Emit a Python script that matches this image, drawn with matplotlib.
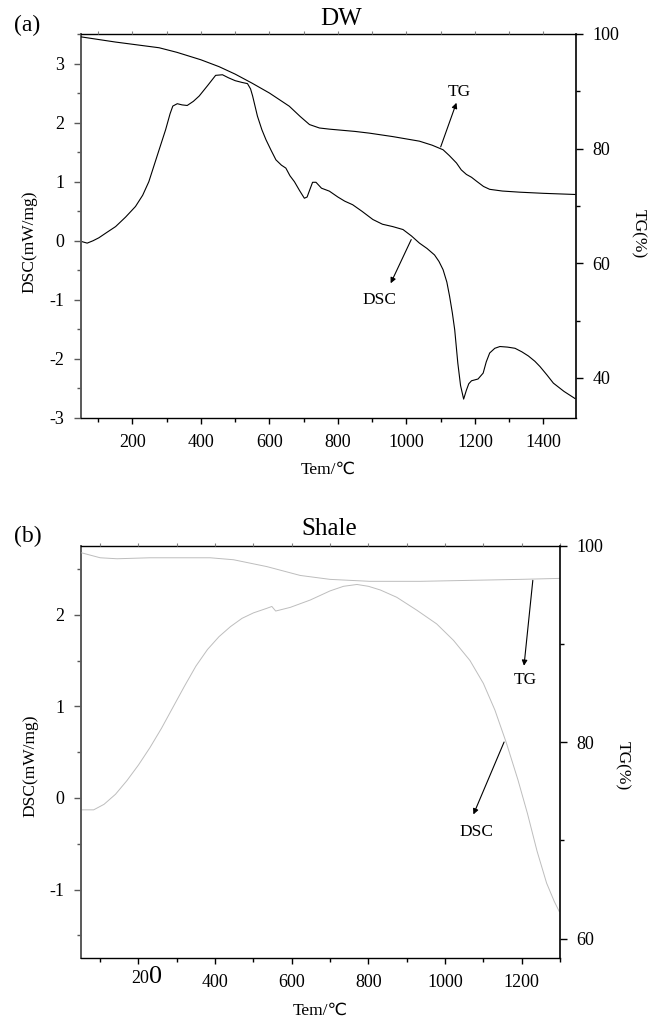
"""DSC / TG curves for the DW and shale samples."""

import matplotlib.pyplot as plt
from matplotlib.ticker import MultipleLocator

plt.rcParams["font.family"] = ["Liberation Serif", "DejaVu Sans"]

# DW sample
dw_dsc_temp = [50, 68, 85, 102, 125, 151, 180, 209, 230, 248, 263, 278, 297, 310,
               318, 331, 345, 360, 378, 395, 420, 443, 463, 480, 500, 520, 536,
               545, 551, 558, 565, 578, 590, 605, 619, 635, 648, 660, 673, 688,
               702, 710, 717, 726, 736, 752, 775, 800, 820, 843, 870, 902, 930,
               960, 990, 1015, 1038, 1060, 1082, 1095, 1107, 1118, 1126, 1134,
               1141, 1150, 1158, 1167, 1175, 1182, 1190, 1209, 1224, 1233, 1243,
               1258, 1273, 1295, 1317, 1337, 1356, 1375, 1390, 1410, 1429, 1460,
               1492]
dw_dsc = [-0.01, -0.04, 0.00, 0.05, 0.14, 0.24, 0.40, 0.58, 0.77, 1.00, 1.27,
          1.54, 1.88, 2.15, 2.28, 2.32, 2.30, 2.29, 2.36, 2.45, 2.63, 2.80, 2.81,
          2.76, 2.71, 2.68, 2.66, 2.57, 2.45, 2.28, 2.11, 1.88, 1.71, 1.53, 1.37,
          1.28, 1.23, 1.10, 1.00, 0.85, 0.72, 0.74, 0.85, 0.99, 0.99, 0.89, 0.84,
          0.74, 0.67, 0.61, 0.50, 0.36, 0.28, 0.24, 0.19, 0.08, -0.04, -0.13,
          -0.24, -0.35, -0.49, -0.70, -0.94, -1.22, -1.51, -2.07, -2.45, -2.68,
          -2.53, -2.42, -2.37, -2.34, -2.24, -2.05, -1.90, -1.82, -1.79, -1.80,
          -1.82, -1.88, -1.95, -2.04, -2.13, -2.27, -2.41, -2.55, -2.67]
dw_tg_temp = [50, 150, 278, 330, 400, 453, 500, 550, 600, 658, 690, 717, 746, 775,
              850, 892, 960, 1038, 1075, 1107, 1125, 1146, 1160, 1175, 1190, 1205,
              1225, 1243, 1280, 1331, 1400, 1492]
dw_tg = [99.5, 98.6, 97.6, 96.8, 95.5, 94.3, 93.0, 91.4, 89.7, 87.4, 85.6, 84.2,
         83.6, 83.4, 83.0, 82.7, 82.1, 81.3, 80.6, 79.8, 78.8, 77.5, 76.3, 75.5,
         75.0, 74.3, 73.4, 72.9, 72.6, 72.4, 72.2, 72.0]

# Shale sample
sh_dsc_temp = [52, 83, 110, 140, 170, 200, 230, 260, 290, 320, 350, 380, 410, 440,
               470, 500, 535, 548, 558, 596, 648, 700, 735, 770, 800, 831, 874,
               926, 978, 1022, 1065, 1100, 1130, 1160, 1190, 1215, 1240, 1265,
               1285, 1298]
sh_dsc = [-0.13, -0.13, -0.07, 0.04, 0.19, 0.36, 0.55, 0.76, 0.99, 1.22, 1.44,
          1.62, 1.76, 1.87, 1.96, 2.02, 2.07, 2.09, 2.04, 2.08, 2.16, 2.26, 2.31,
          2.33, 2.31, 2.27, 2.19, 2.05, 1.90, 1.72, 1.50, 1.25, 0.96, 0.60, 0.20,
          -0.17, -0.58, -0.93, -1.13, -1.24]
sh_tg_temp = [52, 100, 144, 230, 387, 448, 535, 622, 700, 804, 935, 1065, 1196, 1300]
sh_tg = [99.3, 98.8, 98.7, 98.8, 98.8, 98.6, 97.9, 97.0, 96.6, 96.4, 96.4, 96.5,
         96.6, 96.7]

TICK_SIZE = 13
LABEL_SIZE = 12.5
ARROW = dict(arrowstyle="-|>", lw=0.8, color="black", mutation_scale=8,
             shrinkA=0, shrinkB=0)


def setup_axes(ax, ax2, xlim, dsc_lim, tg_lim, dsc_step, ylabel_y, tg_label_pos):
    ax.set_xlim(*xlim)
    ax.set_ylim(*dsc_lim)
    ax2.set_ylim(*tg_lim)

    ax.xaxis.set_major_locator(MultipleLocator(200))
    ax.xaxis.set_minor_locator(MultipleLocator(100))
    ax.yaxis.set_major_locator(MultipleLocator(dsc_step))
    ax.yaxis.set_minor_locator(MultipleLocator(dsc_step / 2))
    ax2.yaxis.set_major_locator(MultipleLocator(20))
    ax2.yaxis.set_minor_locator(MultipleLocator(10))

    ax.tick_params(which="both", direction="out", labelsize=TICK_SIZE, pad=7,
                   top=False, right=False)
    ax.tick_params(axis="y", which="major", length=5, width=1.0, color="0.35")
    ax.tick_params(axis="y", which="minor", length=3, width=1.0, color="0.35")
    ax.tick_params(axis="x", which="major", length=4.5, width=1.0)
    ax.tick_params(axis="x", which="minor", length=3, width=1.0)
    ax.yaxis.set_major_formatter(lambda v, _: f"{v:g}".replace("\u2212", "-"))
    ax2.tick_params(which="both", direction="out", labelsize=TICK_SIZE, pad=7)
    ax2.tick_params(which="major", length=5, width=1.0)
    ax2.tick_params(which="minor", length=3, width=1.0)

    # little marks along the top edge
    ax2.xaxis.set_visible(True)
    ax2.tick_params(axis="x", which="both", bottom=False, top=True,
                    labelbottom=False, labeltop=False, length=2, width=0.8,
                    color="0.5", direction="out")

    ax.spines["left"].set_color("0.35")
    ax.spines["left"].set_linewidth(1.4)
    ax.spines["bottom"].set_linewidth(1.0)
    ax.spines["top"].set_linewidth(1.0)
    ax.spines["right"].set_visible(False)
    for side in ("left", "top", "bottom"):
        ax2.spines[side].set_visible(False)
    ax2.spines["right"].set_linewidth(1.2)

    ax.set_xlabel("Tem/\u2103", fontsize=LABEL_SIZE, labelpad=8)
    ax.set_ylabel("DSC(mW/mg)", fontsize=LABEL_SIZE)
    ax.yaxis.set_label_coords(-0.088, ylabel_y)
    ax2.set_ylabel("TG(%)", fontsize=LABEL_SIZE, rotation=270, va="center")
    ax2.yaxis.set_label_coords(*tg_label_pos)


fig = plt.figure(figsize=(6.57, 10.24), dpi=100)

# (a) DW
ax_a = fig.add_axes([0.1233, 0.5918, 0.7534, 0.3750])
ax_a2 = ax_a.twinx()
ax_a.plot(dw_dsc_temp, dw_dsc, color="black", lw=0.8)
ax_a2.plot(dw_tg_temp, dw_tg, color="black", lw=0.8)
setup_axes(ax_a, ax_a2, (50, 1495), (-3, 3.5), (33, 100), 1, 0.46, (1.125, 0.48))
ax_a.text(0.526, 1.024, "DW", transform=ax_a.transAxes, ha="center",
          va="baseline", fontsize=18)
fig.text(27 / 657, 1 - 25 / 1024, "(a)", ha="center", va="center", fontsize=17)
ax_a2.annotate("", xy=(1146, 88.0), xytext=(1100, 80.3), arrowprops=ARROW)
ax_a2.text(1155, 89.9, "TG", ha="center", va="center", fontsize=12.5)
ax_a.annotate("", xy=(954, -0.72), xytext=(1014, 0.02), arrowprops=ARROW)
ax_a.text(921, -1.0, "DSC", ha="center", va="center", fontsize=12.5)

# (b) Shale
ax_b = fig.add_axes([0.1233, 0.0642, 0.7291, 0.4026])
ax_b2 = ax_b.twinx()
ax_b.plot(sh_dsc_temp, sh_dsc, color="#bdbdbd", lw=0.7)
ax_b2.plot(sh_tg_temp, sh_tg, color="#bdbdbd", lw=0.7)
setup_axes(ax_b, ax_b2, (50, 1300), (-1.75, 2.75), (58, 100), 1, 0.468,
           (1.13, 0.468))
ax_b.text(0.518, 1.027, "Shale", transform=ax_b.transAxes, ha="center",
          va="baseline", fontsize=18)
fig.text(28 / 657, 1 - 536 / 1024, "(b)", ha="center", va="center", fontsize=17)
ax_b2.annotate("", xy=(1206, 87.8), xytext=(1229, 96.5), arrowprops=ARROW)
ax_b2.text(1209, 86.3, "TG", ha="center", va="center", fontsize=12.5)
ax_b.annotate("", xy=(1074, -0.18), xytext=(1154, 0.61), arrowprops=ARROW)
ax_b.text(1081, -0.37, "DSC", ha="center", va="center", fontsize=12.5)

# the 200 label on this panel has an oversized last digit
labels = ["" if t == 200 else f"{t:g}" for t in ax_b.get_xticks()]
ax_b.set_xticks(ax_b.get_xticks(), labels)
ax_b.set_xlim(50, 1300)
xt = ax_b.get_xaxis_transform()
ax_b.text(228, -0.059, "20", transform=xt, ha="right", va="baseline",
          fontsize=TICK_SIZE)
ax_b.text(228, -0.059, "0", transform=xt, ha="left", va="baseline",
          fontsize=TICK_SIZE * 1.45)

fig.savefig("out.png", dpi=100)
